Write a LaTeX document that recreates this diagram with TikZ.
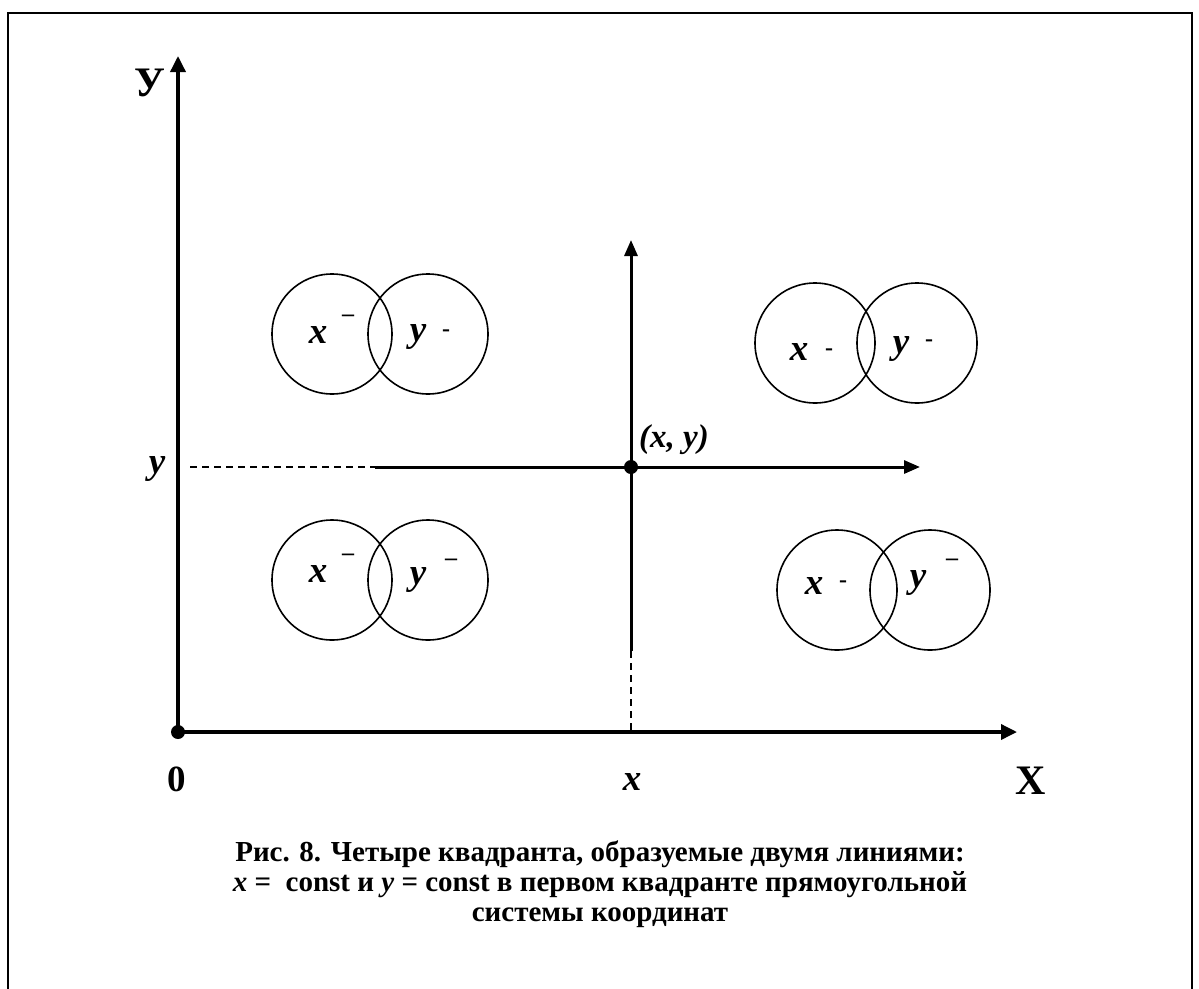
\documentclass[tikz,border=0pt]{standalone}
\usepackage{fontspec}
\setmainfont{Liberation Serif}
\usetikzlibrary{arrows.meta}
\begin{document}
\begin{tikzpicture}[x=1pt,y=-1pt,
  axis/.style={line width=3.5pt,-{Triangle[length=16pt,width=15pt]}},
  guide/.style={line width=1.4pt,dash pattern=on 7pt off 5pt},
  ring/.style={draw,circle,line width=1.6pt,minimum size=120pt,inner sep=0pt},
  lab/.style={font=\fontsize{37}{37}\selectfont\bfseries\itshape,inner sep=0pt},
  sup/.style={font=\fontsize{24}{24}\selectfont\bfseries,inner sep=0pt},
  big/.style={font=\fontsize{42}{42}\selectfont\bfseries,inner sep=0pt},
  dot/.style={circle,fill,inner sep=0pt,minimum size=14pt}]
\useasboundingbox (0,0) rectangle (1199,988);
\draw[line width=1.5pt] (8,990) -- (8,13) -- (1192,13) -- (1192,990);
% axes
\node[dot] (O) at (178,732) {};
\coordinate (Ytip) at (178,56);
\coordinate (Xtip) at (1017,732);
\draw[axis] (O.center) -- (Ytip);
\draw[axis] (O.center) -- (Xtip);
\node[big] (Ylab) at (150,83) {У};
\node[big] (Xlab) at (1031,781) {X};
\node[big,font=\fontsize{37}{37}\selectfont\bfseries] (zero) at (177,779) {0};
\node[lab] (xlab) at (632,782) {x};
\node[lab] (ylab) at (157,469) {y};
% point lines
\node[dot] (P) at (631,467) {};
\coordinate (hs) at (375,467);
\coordinate (htip) at (920,467);
\coordinate (vtip) at (631,240);
\coordinate (vs) at (631,651);
\coordinate (Xfoot) at (631,732);
\draw[guide] (190,467) -- (hs);
\draw[line width=3pt] (hs) -- (P.center);
\draw[line width=3pt,-{Triangle[length=16pt,width=13pt]}] (P.center) -- (htip);
\draw[line width=3pt,-{Triangle[length=16pt,width=13pt]}] (vs) -- (vtip);
\draw[guide] (vs) -- (Xfoot);
\node[lab,font=\fontsize{33}{33}\selectfont\bfseries\itshape] (plab) at (674,440) {(x, y)};
% circles top-left
\node[ring] (c1) at (332,334) {};
\node[ring] (c2) at (428,334) {};
\node[lab] (c1x) at (318,335) {x};
\node[sup] (c1m) at (348,318) {–};
\node[lab] (c2y) at (418,337) {y};
\node[sup] (c2m) at (446,333) {-};
% circles top-right
\node[ring] (c3) at (815,343) {};
\node[ring] (c4) at (917,343) {};
\node[lab] (c3x) at (799,352) {x};
\node[sup] (c3m) at (829,352) {-};
\node[lab] (c4y) at (901,349) {y};
\node[sup] (c4m) at (929,343) {-};
% circles bottom-left
\node[ring] (c5) at (332,580) {};
\node[ring] (c6) at (428,580) {};
\node[lab] (c5x) at (318,574) {x};
\node[sup] (c5m) at (348,557) {–};
\node[lab] (c6y) at (418,580) {y};
\node[sup] (c6m) at (451,562) {–};
% circles bottom-right
\node[ring] (c7) at (837,590) {};
\node[ring] (c8) at (930,590) {};
\node[lab] (c7x) at (814,586) {x};
\node[sup] (c7m) at (843,584) {-};
\node[lab] (c8y) at (918,583) {y};
\node[sup] (c8m) at (952,562) {–};
% caption
\node[font=\fontsize{29}{30}\selectfont\bfseries,align=center,inner sep=0pt] (cap) at (600,884)
 {Рис. 8. Четыре квадранта, образуемые двумя линиями:\\
  \textit{x} =\ \ const и \textit{y} = const в первом квадранте прямоугольной\\
  системы координат};
\end{tikzpicture}
\end{document}
